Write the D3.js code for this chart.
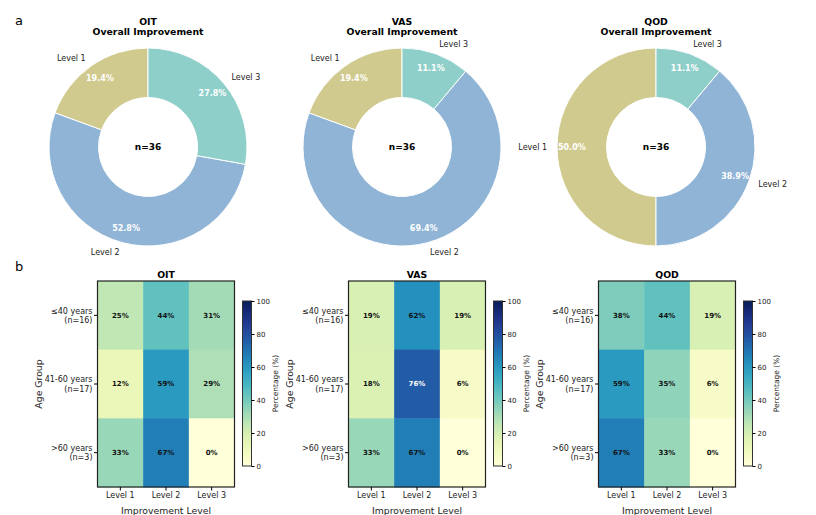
<!DOCTYPE html>
<html>
<head>
<meta charset="utf-8">
<script src="https://cdn.jsdelivr.net/npm/d3@7"></script>
<style>
  body { margin: 0; background: #fff; }
  svg text { font-family: "DejaVu Sans", sans-serif; }
</style>
</head>
<body>
<div id="chart"></div>
<script>
// data
var levels = ["Level 1", "Level 2", "Level 3"];
var measures = ["OIT", "VAS", "QOD"];
var oitPie = [19.4, 52.8, 27.8];
var vasPie = [19.4, 69.4, 11.1];
var qodPie = [50.0, 38.9, 11.1];
var sampleN = 36;

var ageGroups = ["\u226440 years", "41-60 years", ">60 years"];
var ageN = ["(n=16)", "(n=17)", "(n=3)"];
var oitHeat = [[25, 44, 31], [12, 59, 29], [33, 67, 0]];
var vasHeat = [[19, 62, 19], [18, 76, 6], [33, 67, 0]];
var qodHeat = [[38, 44, 19], [59, 35, 6], [67, 33, 0]];
var cbTicks = [0, 20, 40, 60, 80, 100];

var pieColors = ["#d0ca8e", "#8fb4d6", "#8fcfca"];

var svg = d3.select("#chart").append("svg")
    .attr("width", 816)
    .attr("height", 515);

// panel letters
svg.append("text").attr("x", 15).attr("y", 25).style("font-size", "13px").text("a");
svg.append("text").attr("x", 15).attr("y", 271).style("font-size", "13px").text("b");

// ---- donut charts ----
var pieData = [oitPie, vasPie, qodPie];
var pieCx = [148, 402, 656];
var pieCy = 147;
var R = 99;

var pie = d3.pie().sort(null).startAngle(0).endAngle(-2 * Math.PI);
var arc = d3.arc().innerRadius(R * 0.5).outerRadius(R);

pieData.forEach(function(vals, k) {
  var g = svg.append("g")
      .attr("transform", "translate(" + pieCx[k] + "," + pieCy + ")");

  var arcs = pie(vals);
  g.selectAll("path")
      .data(arcs)
      .enter().append("path")
      .attr("d", arc)
      .attr("fill", function(d, i) { return pieColors[i]; })
      .attr("stroke", "#fff")
      .attr("stroke-width", 1);

  function pos(d, f) {
    var a = (d.startAngle + d.endAngle) / 2;
    return [Math.sin(a) * R * f, -Math.cos(a) * R * f];
  }

  // percentages
  g.selectAll(".pct")
      .data(arcs)
      .enter().append("text")
      .attr("class", "pct")
      .attr("x", function(d) { return pos(d, 0.85)[0]; })
      .attr("y", function(d) { return pos(d, 0.85)[1]; })
      .attr("dy", "0.35em")
      .attr("text-anchor", "middle")
      .style("font-size", "8px")
      .style("font-weight", "bold")
      .attr("fill", "#fff")
      .text(function(d) { return d.data.toFixed(1) + "%"; });

  // level labels
  g.selectAll(".lab")
      .data(arcs)
      .enter().append("text")
      .attr("class", "lab")
      .attr("x", function(d) { return pos(d, 1.1)[0]; })
      .attr("y", function(d) { return pos(d, 1.1)[1]; })
      .attr("dy", "0.35em")
      .attr("text-anchor", function(d) { return pos(d, 1.1)[0] > 0 ? "start" : "end"; })
      .style("font-size", "8px")
      .attr("fill", "#222")
      .text(function(d, i) { return levels[i]; });

  g.append("text")
      .attr("y", 0)
      .attr("dy", "0.35em")
      .attr("text-anchor", "middle")
      .style("font-size", "9px")
      .style("font-weight", "bold")
      .text("n=" + sampleN);

  svg.append("text")
      .attr("x", pieCx[k]).attr("y", 24.5)
      .attr("text-anchor", "middle")
      .style("font-size", "9.3px").style("font-weight", "bold")
      .text(measures[k]);
  svg.append("text")
      .attr("x", pieCx[k]).attr("y", 35)
      .attr("text-anchor", "middle")
      .style("font-size", "9.3px").style("font-weight", "bold")
      .text("Overall Improvement");
});

// ---- heatmaps ----
var heatData = [oitHeat, vasHeat, qodHeat];
var heatLeft = [97.5, 348.5, 598.5];
var heatTop = 281;
var heatW = 137;
var heatH = 206;
var color = d3.scaleSequential(d3.interpolateYlGnBu).domain([0, 100]);

// gradient for colorbar
var defs = svg.append("defs");
var grad = defs.append("linearGradient")
    .attr("id", "cbgrad")
    .attr("x1", "0%").attr("y1", "100%")
    .attr("x2", "0%").attr("y2", "0%");
d3.range(0, 101, 5).forEach(function(v) {
  grad.append("stop").attr("offset", v + "%").attr("stop-color", color(v));
});

heatData.forEach(function(mat, k) {
  var g = svg.append("g")
      .attr("transform", "translate(" + heatLeft[k] + "," + heatTop + ")");

  var x = d3.scaleBand().domain(levels).range([0, heatW]);
  var y = d3.scaleBand().domain(ageGroups).range([0, heatH]);

  var cells = [];
  mat.forEach(function(row, r) {
    row.forEach(function(v, c) {
      cells.push({row: ageGroups[r], col: levels[c], value: v});
    });
  });

  g.selectAll("rect.cell")
      .data(cells)
      .enter().append("rect")
      .attr("class", "cell")
      .attr("x", function(d) { return x(d.col); })
      .attr("y", function(d) { return y(d.row); })
      .attr("width", x.bandwidth() + 0.5)
      .attr("height", y.bandwidth() + 0.5)
      .attr("fill", function(d) { return color(d.value); });

  g.selectAll("text.val")
      .data(cells)
      .enter().append("text")
      .attr("class", "val")
      .attr("x", function(d) { return x(d.col) + x.bandwidth() / 2; })
      .attr("y", function(d) { return y(d.row) + y.bandwidth() / 2; })
      .attr("dy", "0.35em")
      .attr("text-anchor", "middle")
      .style("font-size", "7px")
      .style("font-weight", "bold")
      .attr("fill", function(d) { return d.value > 70 ? "#fff" : "#111"; })
      .text(function(d) { return d.value + "%"; });

  g.append("rect")
      .attr("width", heatW).attr("height", heatH)
      .attr("fill", "none")
      .attr("stroke", "#222")
      .attr("stroke-width", 1.2);

  // x axis
  var xa = g.append("g")
      .attr("transform", "translate(0," + heatH + ")")
      .call(d3.axisBottom(x).tickSize(3.5).tickPadding(2));
  xa.select(".domain").remove();
  xa.selectAll("text").style("font-size", "8px").attr("fill", "#222");

  // y axis
  var ya = g.append("g")
      .call(d3.axisLeft(y).tickSize(3.5).tickFormat(""));
  ya.select(".domain").remove();
  ageGroups.forEach(function(a, i) {
    var t = g.append("text")
        .attr("x", -5)
        .attr("y", y(a) + y.bandwidth() / 2)
        .attr("text-anchor", "end")
        .style("font-size", "8px")
        .attr("fill", "#222");
    t.append("tspan").attr("x", -5).attr("dy", "-0.2em").text(a);
    t.append("tspan").attr("x", -5).attr("dy", "1.15em").text(ageN[i]);
  });

  g.append("text")
      .attr("x", heatW / 2).attr("y", -3.5)
      .attr("text-anchor", "middle")
      .style("font-size", "9.3px").style("font-weight", "bold")
      .text(measures[k]);

  g.append("text")
      .attr("x", heatW / 2).attr("y", heatH + 27)
      .attr("text-anchor", "middle")
      .style("font-size", "9.3px").attr("fill", "#222")
      .text("Improvement Level");

  g.append("text")
      .attr("transform", "rotate(-90)")
      .attr("x", -heatH / 2).attr("y", -56)
      .attr("text-anchor", "middle")
      .style("font-size", "9.3px").attr("fill", "#222")
      .text("Age Group");

  // colorbar
  var cbX = 145, cbTop = 20, cbH = 165, cbW = 9;
  var cs = d3.scaleLinear().domain([0, 100]).range([cbTop + cbH, cbTop]);
  g.append("rect")
      .attr("x", cbX).attr("y", cbTop)
      .attr("width", cbW).attr("height", cbH)
      .attr("fill", "url(#cbgrad)")
      .attr("stroke", "#333").attr("stroke-width", 1);
  var ca = g.append("g")
      .attr("transform", "translate(" + (cbX + cbW) + ",0)")
      .call(d3.axisRight(cs).tickValues(cbTicks).tickSize(3).tickPadding(2));
  ca.select(".domain").remove();
  ca.selectAll("text").style("font-size", "7px").attr("fill", "#222");
  g.append("text")
      .attr("transform", "rotate(-90)")
      .attr("x", -(cbTop + cbH / 2)).attr("y", cbX + 35)
      .attr("text-anchor", "middle")
      .style("font-size", "7.5px").attr("fill", "#222")
      .text("Percentage (%)");
});
</script>
</body>
</html>
